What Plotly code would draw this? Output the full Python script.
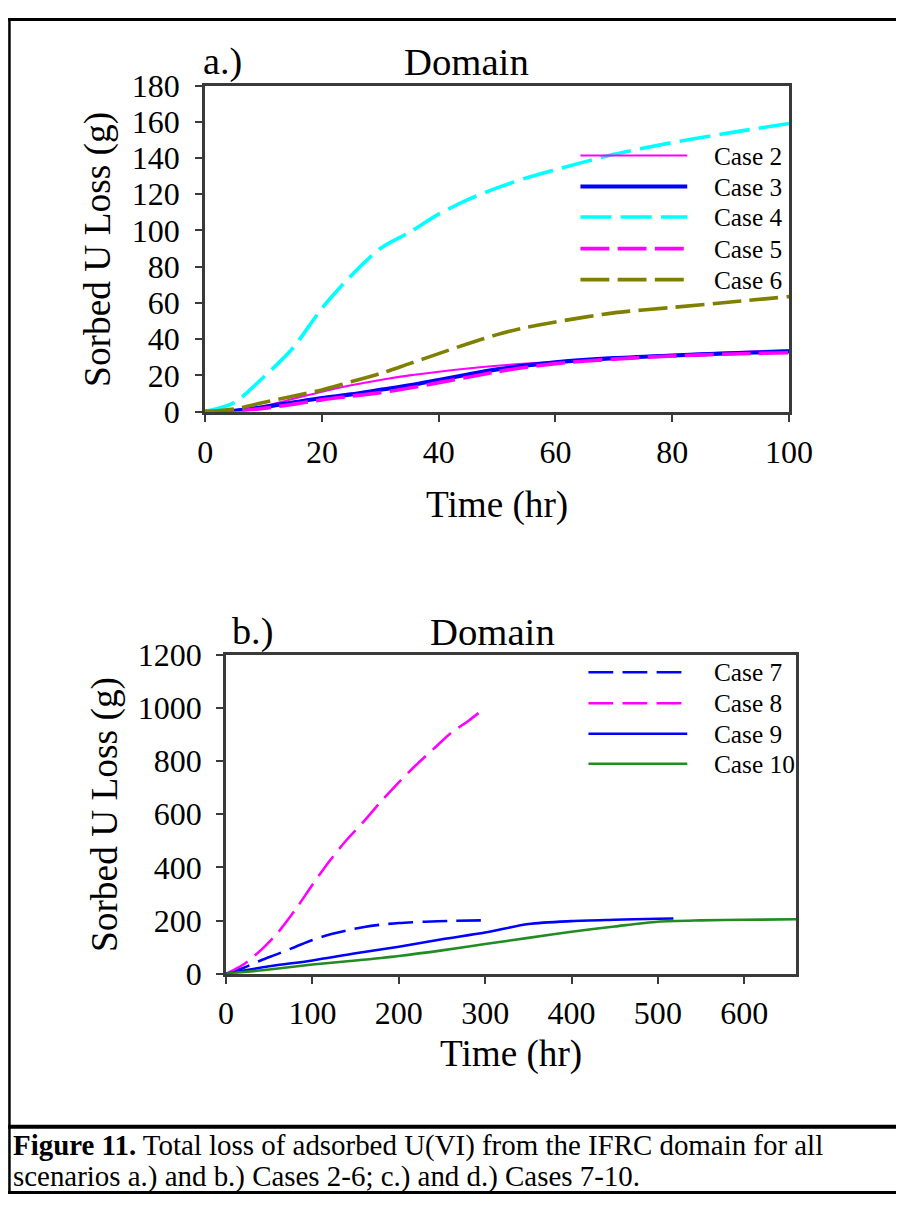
import plotly.graph_objects as go

W, H = 920, 1212
FONT = "Liberation Serif, Times New Roman, serif"

# ---------------- Panel a data ----------------
time_a = [0, 5, 10, 15, 20, 25, 30, 35, 40, 45, 50, 55, 60, 70, 80, 90, 100]
case2 = [0, 0.5, 3, 7, 11, 14.5, 17.5, 20, 22, 23.8, 25.3, 26.5, 27.5, 29.5, 31.3, 32.8, 34]
case3 = [0, 0.5, 2.5, 5, 7.5, 9.5, 12, 14.5, 17.5, 20.5, 23.3, 25.5, 27.2, 29.5, 31, 32.2, 33.2]
case4 = [0, 5, 19, 35, 57, 75, 90, 99, 109, 117, 123.5, 129, 133.5, 142, 148.5, 154, 159]
case5 = [0, 0.3, 1.8, 4, 6.5, 8.5, 10.5, 13, 16, 19, 22, 24.5, 26.5, 29, 30.7, 31.8, 32.5]
case6 = [0, 1.5, 5, 8.5, 12, 16.5, 21, 26.5, 32, 37.5, 42.5, 46.5, 49.5, 54.5, 57.5, 60.5, 63.5]
names_a = ["Case 2", "Case 3", "Case 4", "Case 5", "Case 6"]

# ---------------- Panel b data ----------------
time_c7 = [0, 20, 40, 60, 80, 100, 120, 140, 160, 180, 200, 230, 260, 295]
case7 = [0, 22, 50, 75, 101, 127, 148, 163, 176, 185, 191, 196, 199, 201]
time_c8 = [0, 20, 40, 60, 80, 100, 120, 140, 160, 180, 200, 220, 240, 260, 280, 293]
case8 = [0, 35, 88, 155, 240, 335, 425, 505, 575, 650, 720, 785, 845, 905, 950, 982]
time_c9 = [0, 50, 100, 150, 200, 250, 300, 350, 400, 450, 500, 518]
case9 = [0, 28, 50, 77, 102, 130, 155, 187, 198, 203, 207, 208]
time_c10 = [0, 50, 100, 150, 200, 250, 300, 350, 400, 450, 500, 550, 600, 660]
case10 = [0, 16, 35, 50, 67, 88, 112, 135, 158, 178, 196, 201, 203, 205]
names_b = ["Case 7", "Case 8", "Case 9", "Case 10"]

# tick values
ticks_a_x = [0, 20, 40, 60, 80, 100]
ticks_a_y = [0, 20, 40, 60, 80, 100, 120, 140, 160, 180]
ticks_b_x = [0, 100, 200, 300, 400, 500, 600]
ticks_b_y = [0, 200, 400, 600, 800, 1000, 1200]

caption_1 = "<b>Figure 11.</b> Total loss of adsorbed U(VI) from the IFRC domain for all"
caption_2 = "scenarios a.) and b.) Cases 2-6; c.) and d.) Cases 7-10."

# ---------------- layout helpers ----------------
# the page snapshot shows the figure slightly reduced and inset; these map
# target picture pixels to figure pixels
SX, OX = 0.967, 7.5
SY, OY = 0.970, 17.5
K = 1 / 0.968


def X(r):
    return (r - OX) / SX


def Y(r):
    return (r - OY) / SY


def px(x):
    return x / W


def py(y):
    return 1 - y / H


def dash(a, b):
    return f"{a * K:.1f}px,{b * K:.1f}px"


# ---------------- styles ----------------
styles_a = [
    dict(color="#FF00FF", width=2 * K, dash="solid"),
    dict(color="#0000FF", width=4 * K, dash="solid"),
    dict(color="#00FFFF", width=3.5 * K, dash=dash(30, 9)),
    dict(color="#FF00FF", width=3.5 * K, dash=dash(28, 8)),
    dict(color="#808000", width=3.5 * K, dash=dash(28, 8)),
]
styles_b = [
    dict(color="#0000FF", width=2.5 * K, dash=dash(24, 9)),
    dict(color="#FF00FF", width=2.5 * K, dash=dash(24, 9)),
    dict(color="#0000FF", width=2.5 * K, dash="solid"),
    dict(color="#228B22", width=2.5 * K, dash="solid"),
]

fig = go.Figure()

series_a = [(time_a, case2), (time_a, case3), (time_a, case4), (time_a, case5), (time_a, case6)]
for (xs, ys), nm, st in zip(series_a, names_a, styles_a):
    fig.add_trace(go.Scatter(x=xs, y=ys, name=nm, mode="lines", line=dict(shape="spline", smoothing=0.8, **st),
                             xaxis="x", yaxis="y", showlegend=False))

series_b = [(time_c7, case7), (time_c8, case8), (time_c9, case9), (time_c10, case10)]
for (xs, ys), nm, st in zip(series_b, names_b, styles_b):
    fig.add_trace(go.Scatter(x=xs, y=ys, name=nm, mode="lines", line=dict(shape="spline", smoothing=0.8, **st),
                             xaxis="x2", yaxis="y2", showlegend=False))

axis_common = dict(showline=True, mirror=True, linecolor="#3a3a3a", linewidth=2.5 * K,
                   ticks="outside", ticklen=7 * K, tickwidth=2 * K, tickcolor="#3a3a3a",
                   showgrid=False, zeroline=False,
                   tickfont=dict(family=FONT, size=31 * K, color="black"))

fig.update_layout(
    width=W, height=H,
    margin=dict(l=0, r=0, t=0, b=0),
    paper_bgcolor="white", plot_bgcolor="white",
    showlegend=False,
    xaxis=dict(domain=[px(X(205)), px(X(790))], range=[0, 100], tickvals=ticks_a_x, anchor="y",
               ticklabelstandoff=3, **axis_common),
    yaxis=dict(domain=[py(Y(411)), py(Y(85))], range=[0, 180], tickvals=ticks_a_y, anchor="x",
               ticklabelstandoff=9, **axis_common),
    xaxis2=dict(domain=[px(X(226)), px(X(797))], range=[0, 660], tickvals=ticks_b_x, anchor="y2",
                ticklabelstandoff=2, **axis_common),
    yaxis2=dict(domain=[py(Y(973)), py(Y(654))], range=[0, 1200], tickvals=ticks_b_y, anchor="x2",
                ticklabelstandoff=8, **axis_common),
)

annotations = []
shapes = []


def text(x, y, s, size, xanchor="center", angle=0):
    annotations.append(dict(x=px(X(x)), y=py(Y(y)), xref="paper", yref="paper", text=s, showarrow=False,
                            xanchor=xanchor, yanchor="middle", textangle=angle,
                            font=dict(family=FONT, size=size * K, color="black")))


# panel labels / titles
text(222.5, 60.5, "a.)", 37)
text(466.5, 60.5, "Domain", 37.5)
text(252.5, 630.5, "b.)", 37)
text(492.5, 630.5, "Domain", 37.5)
# axis titles
text(497, 504, "Time (hr)", 36)
text(511, 1053, "Time (hr)", 36)
text(97.5, 248.5, "Sorbed U Loss (g)", 36.2, angle=-90)
text(104.5, 813.5, "Sorbed U Loss (g)", 36.2, angle=-90)

# custom legends (long line samples)
leg_a_y = [155, 186, 216.5, 248, 279]
for nm, st, yy in zip(names_a, styles_a, leg_a_y):
    shapes.append(dict(type="line", xref="paper", yref="paper", x0=px(X(581)), x1=px(X(688)),
                       y0=py(Y(yy)), y1=py(Y(yy)),
                       line=dict(color=st["color"], width=st["width"], dash=st["dash"])))
    text(713, yy, nm, 24.5, xanchor="left")

leg_b_y = [671.5, 702.5, 733, 763]
for nm, st, yy in zip(names_b, styles_b, leg_b_y):
    shapes.append(dict(type="line", xref="paper", yref="paper", x0=px(X(589)), x1=px(X(688)),
                       y0=py(Y(yy)), y1=py(Y(yy)),
                       line=dict(color=st["color"], width=st["width"], dash=st["dash"])))
    text(713, yy, nm, 24.5, xanchor="left")

# caption
text(11, 1145, caption_1, 28, xanchor="left")
text(11, 1175.5, caption_2, 28, xanchor="left")

# page borders (drawn at the outer edge of the figure)
shapes.append(dict(type="line", xref="paper", yref="paper", x0=0, x1=1, y0=py(1.5), y1=py(1.5),
                   line=dict(color="black", width=3)))
shapes.append(dict(type="line", xref="paper", yref="paper", x0=px(1.5), x1=px(1.5), y0=0, y1=1,
                   line=dict(color="black", width=2.5)))
shapes.append(dict(type="line", xref="paper", yref="paper", x0=0, x1=1, y0=py(Y(1126)), y1=py(Y(1126)),
                   line=dict(color="black", width=4)))
shapes.append(dict(type="line", xref="paper", yref="paper", x0=0, x1=1, y0=py(1210.5), y1=py(1210.5),
                   line=dict(color="black", width=3)))

fig.update_layout(annotations=annotations, shapes=shapes)

fig.write_html("out.html")
